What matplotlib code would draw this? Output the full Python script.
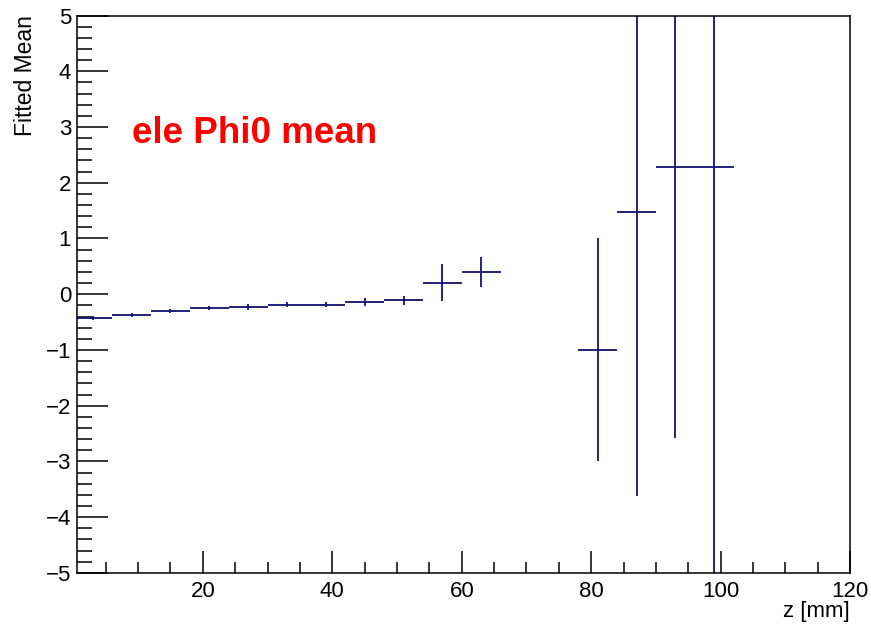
import numpy as np
import matplotlib.pyplot as plt
from matplotlib.ticker import MultipleLocator

plt.rcParams['font.family'] = ['Liberation Sans', 'DejaVu Sans']

z = [3, 9, 15, 21, 27, 33, 39, 45, 51, 57, 63, 81, 87, 93, 99]
mean = [-0.43, -0.365, -0.30, -0.25, -0.23, -0.185, -0.185, -0.14, -0.11,
        0.21, 0.395, -1.0, 1.47, 2.28, 2.28]
err = [0.035, 0.035, 0.04, 0.04, 0.05, 0.045, 0.045, 0.065, 0.08,
       0.33, 0.27, 2.0, 5.1, 4.86, 8.0]
half_bin = 3.0

fig = plt.figure(figsize=(8.71, 6.24), dpi=100)
ax = fig.add_axes([0.088, 0.082, 0.888, 0.893])

ax.errorbar(z, mean, xerr=half_bin, yerr=err, fmt='none',
            ecolor='#10106e', elinewidth=1.3, capsize=0)

ax.set_xlim(0.5, 120)
ax.set_ylim(-5, 5)

ax.xaxis.set_major_locator(MultipleLocator(20))
ax.xaxis.set_minor_locator(MultipleLocator(5))
ax.yaxis.set_major_locator(MultipleLocator(1))
ax.yaxis.set_minor_locator(MultipleLocator(0.2))
ax.tick_params(which='both', direction='in', top=False, right=False,
               labelsize=16, width=1.1, colors='black')
ax.tick_params(axis='x', which='major', length=16, pad=6)
ax.tick_params(axis='x', which='minor', length=8)
ax.tick_params(axis='y', which='major', length=22, pad=4)
ax.tick_params(axis='y', which='minor', length=11)
for s in ax.spines.values():
    s.set_linewidth(1.1)

ax.set_xlabel('z [mm]', fontsize=16, loc='right', labelpad=-1)
ax.set_ylabel('Fitted Mean', fontsize=16.5, loc='top', labelpad=6)

ax.text(0.072, 0.772, 'ele Phi0 mean', transform=ax.transAxes, color='red',
        fontsize=26.5, fontweight='bold')

fig.savefig('out.png', dpi=100)
